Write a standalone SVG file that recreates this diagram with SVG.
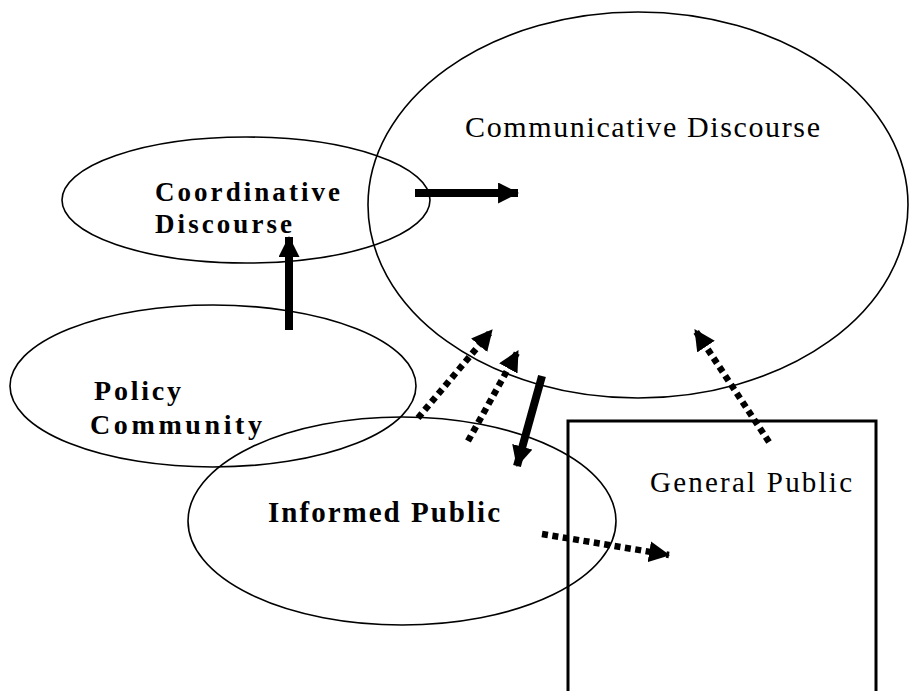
<svg xmlns="http://www.w3.org/2000/svg" width="911" height="691" viewBox="0 0 911 691">
  <style>
    .shape { fill: none; stroke: #000; stroke-width: 1.6; }
    .box { fill: none; stroke: #000; stroke-width: 3; }
    .lbl { font-family: "Liberation Serif", "Times New Roman", serif; fill: #000; }
    .bold { font-weight: bold; }
    .solid { stroke: #000; stroke-width: 8; fill: none; }
    .dotted { stroke: #000; stroke-width: 6.5; stroke-dasharray: 6 4.5; fill: none; }
  </style>
  <defs>
    <marker id="head" markerUnits="userSpaceOnUse" markerWidth="21" markerHeight="21" viewBox="0 0 20 20" refX="19" refY="10" orient="auto">
      <path d="M0,0 L20,10 L0,20 Z" fill="#000"/>
    </marker>
  </defs>

  <rect width="911" height="691" fill="#fff"/>

  <g id="communicative-discourse">
    <ellipse class="shape" cx="638" cy="205" rx="270" ry="193"/>
    <text class="lbl" x="465" y="137" font-size="30" textLength="355" lengthAdjust="spacing">Communicative Discourse</text>
  </g>

  <g id="coordinative-discourse">
    <ellipse class="shape" cx="246" cy="200" rx="184" ry="63"/>
    <text class="lbl bold" x="155" y="201" font-size="27" textLength="185" lengthAdjust="spacing">Coordinative</text>
    <text class="lbl bold" x="155" y="233" font-size="27" textLength="137" lengthAdjust="spacing">Discourse</text>
  </g>

  <g id="policy-community">
    <ellipse class="shape" cx="213" cy="386" rx="203" ry="81"/>
    <text class="lbl bold" x="94" y="400" font-size="28" textLength="87" lengthAdjust="spacing">Policy</text>
    <text class="lbl bold" x="90" y="434" font-size="28" textLength="172" lengthAdjust="spacing">Community</text>
  </g>

  <g id="informed-public">
    <ellipse class="shape" cx="402" cy="521" rx="214" ry="104"/>
    <text class="lbl bold" x="268" y="522" font-size="29" textLength="232" lengthAdjust="spacing">Informed Public</text>
  </g>

  <g id="general-public">
    <rect class="box" x="568" y="421" width="308" height="290"/>
    <text class="lbl" x="650" y="492" font-size="29" textLength="202" lengthAdjust="spacing">General Public</text>
  </g>

  <g id="connectors">
    <line class="solid" x1="415" y1="193" x2="518" y2="193" marker-end="url(#head)"/>
    <line class="solid" x1="289" y1="330" x2="289" y2="237" marker-end="url(#head)"/>
    <line class="solid" x1="542" y1="376" x2="517" y2="466" marker-end="url(#head)"/>
    <line class="dotted" x1="418" y1="418" x2="492" y2="330" marker-end="url(#head)"/>
    <line class="dotted" x1="468" y1="441" x2="518" y2="351" marker-end="url(#head)"/>
    <line class="dotted" x1="769" y1="442" x2="695" y2="330" marker-end="url(#head)"/>
    <line class="dotted" x1="542" y1="534" x2="669" y2="555" marker-end="url(#head)"/>
  </g>
</svg>
